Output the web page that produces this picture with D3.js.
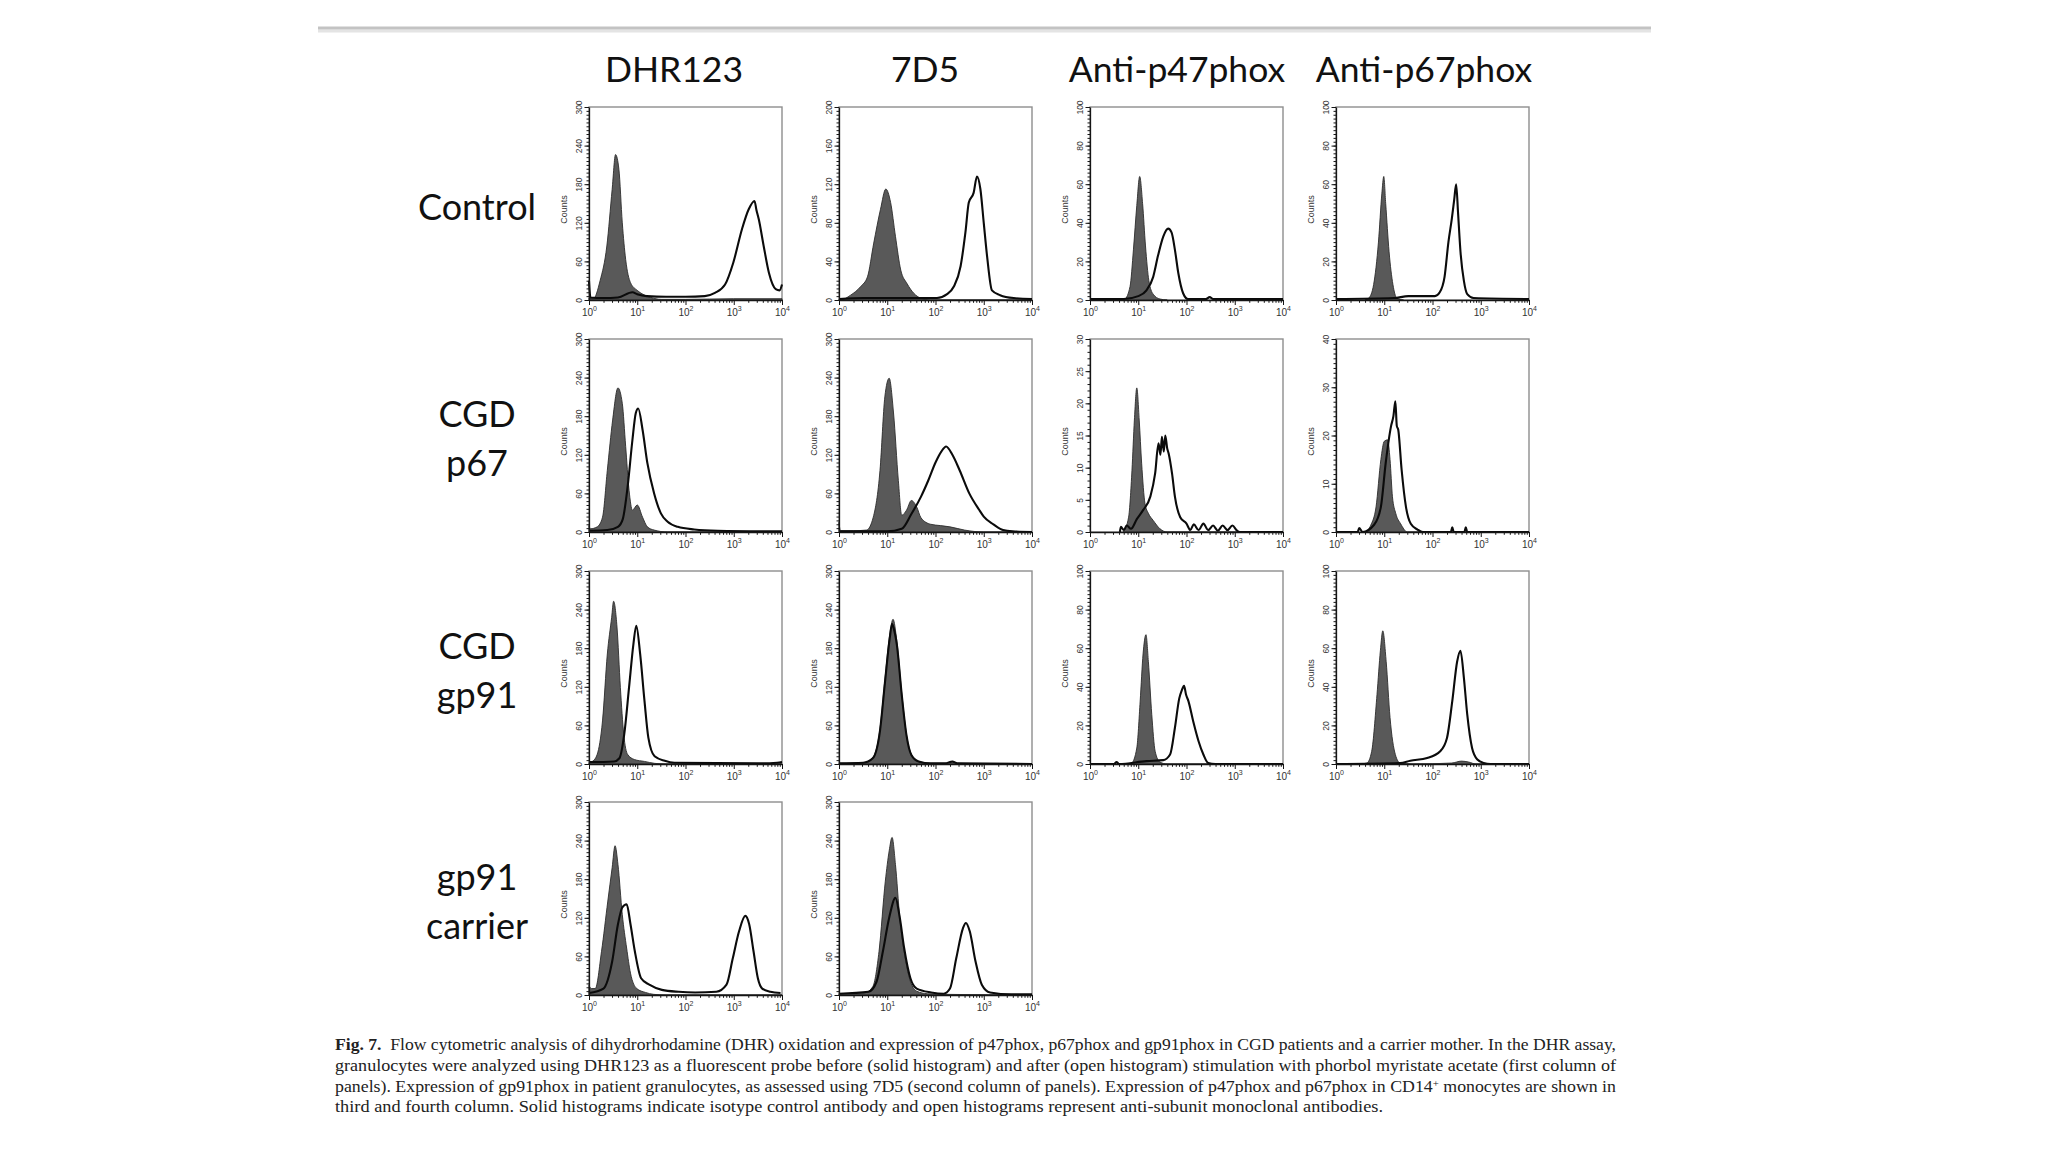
<!DOCTYPE html>
<html lang="en">
<head>
  <meta charset="UTF-8">
  <title>Fig. 7 - flow cytometry histograms</title>
  <script src="https://d3js.org/d3.v7.min.js"></script>
  <style>
    body { margin: 0; background: #fff; }
    .axis path, .axis line { fill: none; stroke: #151515; }
    .axis text { font-family: "Liberation Sans", Arial, sans-serif; fill: #333; }
    .col-title { font-family: Lato, sans-serif; font-size: 35.5px; fill: #111; }
    .row-label { font-family: Lato, sans-serif; font-size: 36px; fill: #111; }
    .caption { font-family: "Liberation Serif", serif; font-size: 16.5px; fill: #222; }
    .counts { font-family: "Liberation Sans", Arial, sans-serif; font-size: 9px; fill: #333; }
  </style>
</head>
<body>
<svg id="chart" width="2048" height="1152"></svg>
<script>
  // column and row headings
  const columns = ["DHR123", "7D5", "Anti-p47phox", "Anti-p67phox"];
  const rows = [["Control"], ["CGD", "p67"], ["CGD", "gp91"], ["gp91", "carrier"]];

  // tick labels
  const xDecades = [0, 1, 2, 3, 4];
  const ticks300 = [0, 60, 120, 180, 240, 300];
  const ticks200 = [0, 40, 80, 120, 160, 200];
  const ticks100 = [0, 20, 40, 60, 80, 100];
  const ticks30 = [0, 5, 10, 15, 20, 25, 30];
  const ticks40 = [0, 10, 20, 30, 40];

  // histograms: [log10 fluorescence, counts]; solid = before / isotype, open = after / antibody
  const ctrlDhrSolid = [[0,3],[0.09,2],[0.23,30],[0.37,84],[0.48,172],[0.55,226],[0.62,203],[0.69,120],[0.76,63],[0.86,27],[1.0,15],[1.14,8],[1.28,4],[1.5,1],[2,1],[3,2],[4,2]];
  const ctrlDhrOpen = [[0,30],[0.03,4],[0.3,3],[0.6,4],[0.9,12],[1.0,9],[1.2,6],[1.6,5],[2.0,5],[2.4,6],[2.61,11],[2.82,24],[2.99,58],[3.17,110],[3.31,141],[3.43,154],[3.47,140],[3.52,125],[3.62,84],[3.73,42],[3.87,17],[3.95,15],[4.0,24]];

  const ctrl7d5Solid = [[0,1],[0.03,0],[0.24,5],[0.45,14],[0.59,24],[0.72,59],[0.86,94],[0.97,115],[1.07,101],[1.17,66],[1.28,31],[1.41,17],[1.55,7],[1.69,2],[1.9,0],[4,0]];
  const ctrl7d5Open = [[0,1],[0.5,2],[1.0,2],[1.5,2],[2.03,2],[2.24,6],[2.38,14],[2.52,35],[2.62,70],[2.69,101],[2.79,111],[2.86,128],[2.93,115],[3.0,80],[3.07,45],[3.17,10],[3.34,5],[3.62,2],[4,1]];

  const ctrlP47Solid = [[0.6,0],[0.72,0.5],[0.83,7],[0.9,26],[0.97,49],[1.03,64],[1.09,50],[1.15,28],[1.22,10],[1.31,3],[1.45,0.5],[1.6,0]];
  const ctrlP47Open = [[0,0.5],[0.7,0.5],[1.0,2],[1.17,5],[1.31,12],[1.41,23],[1.52,33],[1.62,37],[1.69,35],[1.76,26],[1.83,14],[1.93,3.5],[2.03,0.5],[2.4,0.5],[2.48,1.5],[2.55,0.5],[4,0.5]];

  const ctrlP67Solid = [[0.6,0],[0.68,1],[0.78,8],[0.88,30],[0.95,55],[0.99,64],[1.03,50],[1.1,25],[1.18,8],[1.26,1],[1.4,0]];
  const ctrlP67Open = [[0,0.5],[1.2,1],[1.5,2],[1.8,2],[2.05,2],[2.15,4],[2.25,12],[2.33,30],[2.4,42],[2.45,52],[2.49,60],[2.53,45],[2.58,25],[2.65,10],[2.72,3],[2.85,1],[4,0.5]];

  const p67DhrSolid = [[0,10],[0.03,5],[0.17,8],[0.28,23],[0.38,96],[0.49,174],[0.6,224],[0.69,200],[0.76,133],[0.83,65],[0.9,34],[1.0,42],[1.11,23],[1.21,8],[1.35,3],[1.63,0],[4,0]];
  const p67DhrOpen = [[0,2],[0.38,3],[0.6,8],[0.7,20],[0.8,70],[0.9,143],[0.97,185],[1.02,192],[1.11,159],[1.21,107],[1.35,60],[1.49,29],[1.63,16],[1.84,8],[2.18,4],[2.67,2],[4,1]];

  const p677d5Solid = [[0,15],[0.03,2],[0.3,2],[0.57,3],[0.71,23],[0.85,96],[0.95,210],[1.04,239],[1.13,185],[1.23,80],[1.3,26],[1.4,34],[1.5,49],[1.61,39],[1.7,22],[1.9,12],[2.1,10],[2.3,8],[2.6,3],[3.0,0],[4,0]];
  const p677d5Open = [[0,1],[1.0,1],[1.3,5],[1.5,28],[1.7,55],[1.85,80],[2.0,108],[2.12,125],[2.22,133],[2.35,120],[2.5,96],[2.7,60],[2.9,35],[3.0,24],[3.2,12],[3.4,3],[3.6,1],[4,0]];

  const p67P47Solid = [[0.69,0],[0.8,2.3],[0.87,9.6],[0.92,17.4],[0.97,22.4],[1.02,17.4],[1.07,10.7],[1.14,4.4],[1.21,2.9],[1.31,1.8],[1.45,0.5],[1.6,0],[4,0]];
  const p67P47Open = [[0.62,0],[0.64,0.8],[0.7,0.3],[0.76,1],[0.85,0.5],[0.97,2],[1.1,3.4],[1.25,5.5],[1.35,9.1],[1.42,13.8],[1.46,12],[1.49,14.8],[1.53,12.5],[1.56,15],[1.6,13],[1.63,12.2],[1.7,9.1],[1.76,5.5],[1.87,2.3],[2.0,1.3],[2.08,0.3],[2.15,1.2],[2.25,0.3],[2.35,1.3],[2.45,0.3],[2.55,1],[2.65,0.2],[2.75,1],[2.85,0.3],[2.95,1],[3.05,0.2],[3.1,0],[4,0]];

  const p67P67Solid = [[0.6,0],[0.72,1.4],[0.83,5.2],[0.93,15],[1.0,18.8],[1.07,19.1],[1.12,15],[1.17,7.3],[1.24,3.8],[1.34,1.7],[1.48,0],[4,0]];
  const p67P67Open = [[0,0],[0.45,0],[0.48,0.8],[0.55,0],[0.79,1.5],[0.93,5.2],[1.03,14.3],[1.14,21.9],[1.19,24],[1.23,27.1],[1.26,22],[1.29,21.2],[1.36,12.9],[1.45,5.2],[1.55,1.7],[1.69,0.5],[1.8,0],[2.38,0],[2.41,1],[2.44,0],[2.66,0],[2.69,1],[2.72,0],[4,0]];

  const gp91DhrSolid = [[0,2],[0.07,4],[0.17,15],[0.28,67],[0.38,171],[0.47,228],[0.51,253],[0.58,213],[0.65,119],[0.72,46],[0.8,15],[0.94,7],[1.15,4],[1.36,1],[1.6,0],[4,0]];
  const gp91DhrOpen = [[0,3],[0.52,4],[0.63,9],[0.73,46],[0.83,119],[0.92,186],[0.98,215],[1.06,171],[1.15,98],[1.23,41],[1.36,12],[1.57,5],[1.77,2],[3.5,1],[3.9,2],[4,3]];

  const gp917d5Solid = [[0,1],[0.5,2],[0.7,10],[0.85,55],[0.95,130],[1.05,200],[1.12,225],[1.2,190],[1.3,110],[1.4,45],[1.5,15],[1.65,4],[1.9,1],[2.2,1],[2.35,4],[2.45,1],[4,0]];
  const gp917d5Open = [[0,1],[0.5,2],[0.7,9],[0.85,52],[0.95,125],[1.05,195],[1.1,218],[1.13,212],[1.2,185],[1.3,108],[1.4,44],[1.5,14],[1.65,4],[1.9,1],[2.2,1],[2.35,4],[2.45,1],[4,0]];

  const gp91P47Solid = [[0.7,0],[0.86,0.5],[0.97,8.3],[1.04,32.6],[1.1,57],[1.16,67],[1.21,53],[1.28,25.7],[1.35,6.6],[1.45,1],[1.6,0],[4,0]];
  const gp91P47Open = [[0,0],[0.5,0],[0.55,1],[0.6,0],[1.17,1.5],[1.52,2],[1.66,4.9],[1.76,18.8],[1.85,34],[1.9,38],[1.95,40.5],[1.99,36],[2.04,32.6],[2.14,22],[2.25,11.8],[2.35,4.9],[2.45,0.5],[2.6,0],[4,0]];

  const gp91P67Solid = [[0.5,0],[0.64,0.5],[0.74,6.6],[0.85,36],[0.92,58.7],[0.97,69],[1.04,53],[1.12,24],[1.23,4.9],[1.33,0.5],[1.6,0],[2.4,0.5],[2.6,1.5],[2.75,1],[2.9,0],[4,0]];
  const gp91P67Open = [[0,0],[1.33,0.5],[1.54,1.7],[1.89,3.1],[2.16,6.6],[2.3,13.5],[2.41,32.6],[2.51,53],[2.58,58.7],[2.65,44.8],[2.72,25.7],[2.82,8.3],[2.93,2.3],[3.06,0.5],[3.2,0],[4,0]];

  const carrierDhrSolid = [[0,15],[0.05,10],[0.13,10],[0.26,68],[0.39,146],[0.48,198],[0.54,232],[0.6,203],[0.69,125],[0.78,73],[0.86,34],[0.99,10],[1.17,4],[1.34,1],[1.6,0],[4,0]];
  const carrierDhrOpen = [[0,3],[0.3,10],[0.48,52],[0.6,110],[0.69,136],[0.78,141],[0.86,110],[0.95,68],[1.08,26],[1.25,16],[1.51,8],[1.86,5],[2.2,4],[2.64,5],[2.85,16],[2.98,57],[3.11,99],[3.24,123],[3.32,110],[3.41,68],[3.5,26],[3.59,10],[3.76,5],[3.97,3]];

  const carrier7d5Solid = [[0,2],[0.52,3],[0.7,13],[0.83,68],[0.96,177],[1.04,224],[1.1,245],[1.17,203],[1.26,120],[1.35,68],[1.48,21],[1.61,6],[1.83,2],[2.2,1],[4,0]];
  const carrier7d5Open = [[0,2],[0.61,5],[0.78,21],[0.91,68],[1.04,120],[1.17,151],[1.26,120],[1.35,73],[1.48,26],[1.61,10],[1.91,4],[2.17,2],[2.3,10],[2.43,57],[2.57,104],[2.63,112],[2.71,99],[2.83,52],[2.96,16],[3.13,4],[3.57,1],[4,1]];

  const captionLines = [
    "Flow cytometric analysis of dihydrorhodamine (DHR) oxidation and expression of p47phox, p67phox and gp91phox in CGD patients and a carrier mother. In the DHR assay,",
    "granulocytes were analyzed using DHR123 as a fluorescent probe before (solid histogram) and after (open histogram) stimulation with phorbol myristate acetate (first column of",
    "panels). Expression of gp91phox in patient granulocytes, as assessed using 7D5 (second column of panels). Expression of p47phox and p67phox in CD14| monocytes are shown in",
    "third and fourth column. Solid histograms indicate isotype control antibody and open histograms represent anti-subunit monoclonal antibodies."
  ];

  // grid built from the arrays above
  const panels = [
    [[ctrlDhrSolid, ctrlDhrOpen, ticks300], [ctrl7d5Solid, ctrl7d5Open, ticks200], [ctrlP47Solid, ctrlP47Open, ticks100], [ctrlP67Solid, ctrlP67Open, ticks100]],
    [[p67DhrSolid, p67DhrOpen, ticks300], [p677d5Solid, p677d5Open, ticks300], [p67P47Solid, p67P47Open, ticks30], [p67P67Solid, p67P67Open, ticks40]],
    [[gp91DhrSolid, gp91DhrOpen, ticks300], [gp917d5Solid, gp917d5Open, ticks300], [gp91P47Solid, gp91P47Open, ticks100], [gp91P67Solid, gp91P67Open, ticks100]],
    [[carrierDhrSolid, carrierDhrOpen, ticks300], [carrier7d5Solid, carrier7d5Open, ticks300]]
  ];

  // layout
  const W = 193, H = 193;
  const panelLeft = [589, 839, 1090, 1336];
  const rowTop = [107, 339, 571, 802];
  const titleX = [674, 925, 1177, 1424];
  const rowLabelX = 477;

  const svg = d3.select("#chart");

  // grey rule at the top of the slide
  svg.append("line").attr("x1", 318).attr("x2", 1651).attr("y1", 31).attr("y2", 31)
          .attr("stroke", "#e4e4e4").attr("stroke-width", 3);
  svg.append("line").attr("x1", 318).attr("x2", 1651).attr("y1", 28).attr("y2", 28)
          .attr("stroke", "#c3c3c3").attr("stroke-width", 3);

  columns.forEach((c, i) => {
    svg.append("text").attr("class", "col-title")
            .attr("x", titleX[i]).attr("y", 82)
            .attr("text-anchor", "middle").text(c);
  });

  rows.forEach((lines, r) => {
    const t = svg.append("text").attr("class", "row-label").attr("text-anchor", "middle");
    if (lines.length == 1) {
      t.append("tspan").attr("x", rowLabelX).attr("y", rowTop[r] + 113).text(lines[0]);
    } else {
      lines.forEach((l, k) => {
        t.append("tspan").attr("x", rowLabelX).attr("y", rowTop[r] + 88 + k * 49).text(l);
      });
    }
  });

  panels.forEach((row, r) => row.forEach((p, c) => drawPanel(p, panelLeft[c], rowTop[r])));

  function drawPanel(p, left, top) {
    const [solid, open, yTicks] = p;
    const g = svg.append("g").attr("transform", "translate(" + left + "," + top + ")");

    const x = d3.scaleLog().domain([1, 1e4]).range([0, W]);
    const yMax = yTicks[yTicks.length - 1];
    const y = d3.scaleLinear().domain([0, yMax]).range([H, 0]);

    g.append("rect").attr("width", W).attr("height", H)
            .attr("fill", "none").attr("stroke", "#8e8e8e").attr("stroke-width", 1.4);

    const px = d => x(Math.pow(10, d[0]));
    const area = d3.area().x(px).y0(H).y1(d => y(d[1])).curve(d3.curveMonotoneX);
    const line = d3.line().x(px).y(d => y(d[1])).curve(d3.curveMonotoneX);

    g.append("path").datum(solid).attr("d", area)
            .attr("fill", "#595959").attr("stroke", "#2c2c2c").attr("stroke-width", 0.9);
    g.append("path").datum(open).attr("d", line)
            .attr("fill", "none").attr("stroke", "#0b0b0b").attr("stroke-width", 2.1)
            .attr("stroke-linejoin", "round");

    // y axis, minor then major
    const step = (yTicks[1] - yTicks[0]) / (yTicks.length > 6 ? 5 : 10);
    const minorY = d3.range(0, yMax + step / 2, step);
    g.append("g").attr("class", "axis").attr("color", "#151515")
            .call(d3.axisLeft(y).tickValues(minorY).tickSize(2.5).tickSizeOuter(0).tickFormat(""))
            .select(".domain").remove();

    const ya = g.append("g").attr("class", "axis").attr("color", "#151515")
            .call(d3.axisLeft(y).tickValues(yTicks).tickSize(4.5).tickSizeOuter(0));
    ya.select(".domain").attr("stroke-width", 1.3);
    ya.selectAll(".tick text")
            .attr("x", 0).attr("dy", "0.35em")
            .attr("font-size", 8.5)
            .attr("text-anchor", "middle")
            .attr("transform", "translate(-10,0) rotate(-90)");

    g.append("text").attr("class", "counts")
            .attr("transform", "translate(-22," + (H / 2 + 6) + ") rotate(-90)")
            .attr("text-anchor", "middle").text("Counts");

    // x axis, decades with minor log ticks
    const minorX = [];
    xDecades.slice(0, -1).forEach(e => d3.range(2, 10).forEach(m => minorX.push(m * Math.pow(10, e))));
    g.append("g").attr("class", "axis").attr("color", "#151515")
            .attr("transform", "translate(0," + H + ")")
            .call(d3.axisBottom(x).tickValues(minorX).tickSize(2.8).tickSizeOuter(0).tickFormat(""))
            .select(".domain").remove();

    const xa = g.append("g").attr("class", "axis").attr("color", "#151515")
            .attr("transform", "translate(0," + H + ")")
            .call(d3.axisBottom(x).tickValues(xDecades.map(e => Math.pow(10, e)))
                    .tickSize(5).tickSizeOuter(0).tickFormat(""));
    xa.select(".domain").attr("stroke-width", 1.3);
    xa.selectAll(".tick text").each(function (d) {
      const t = d3.select(this).attr("y", 9).attr("dy", "0.71em").attr("font-size", 10);
      t.append("tspan").text("10");
      t.append("tspan").attr("dy", -5).attr("font-size", 7).text(Math.round(Math.log10(d)));
    });
  }

  // caption
  const capLeft = 335, capFull = 1281, capLast = 1048, capTop = 1050, capStep = 20.8;
  captionLines.forEach((l, i) => {
    const t = svg.append("text").attr("class", "caption")
            .attr("x", capLeft).attr("y", capTop + i * capStep)
            .attr("textLength", i < captionLines.length - 1 ? capFull : capLast)
            .attr("lengthAdjust", "spacingAndGlyphs");
    if (i == 0) {
      t.append("tspan").attr("font-weight", "bold").text("Fig. 7.");
      t.append("tspan").text("\u2002" + l);
    } else if (l.includes("|")) {
      const parts = l.split("|");
      t.append("tspan").text(parts[0]);
      t.append("tspan").attr("dy", -5).attr("font-size", 10).text("+");
      t.append("tspan").attr("dy", 5).text(parts[1]);
    } else {
      t.text(l);
    }
  });
</script>
</body>
</html>
